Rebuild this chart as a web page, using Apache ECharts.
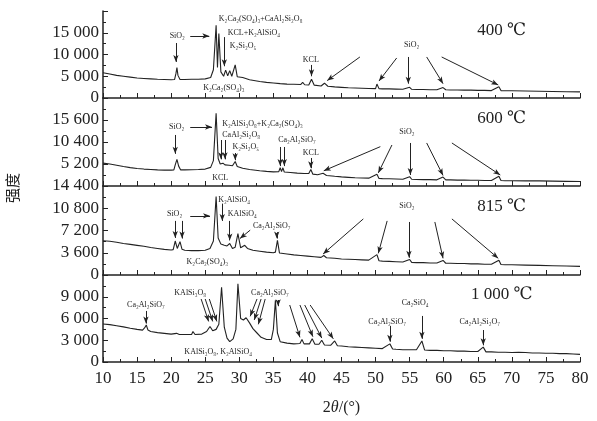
<!DOCTYPE html>
<html><head><meta charset="utf-8">
<script src="https://cdn.jsdelivr.net/npm/echarts@6/dist/echarts.min.js"></script>
<style>html,body{margin:0;padding:0;background:#fff}#c{width:597px;height:421px}</style>
</head><body><div id="c"></div>
<script>
// ---------- data ----------
const panelNames = ['400 ℃', '600 ℃', '815 ℃', '1 000 ℃'];
const yMax  = [20000, 20800, 14400, 12000];
const yStep = [5000, 5200, 3600, 3000];
const xMin = 10, xMax = 80, xStep = 5;

const xrd400 = [[10,5800],[11,5500],[12,5200],[13,5000],[14,4800],[15,4600],[16,4500],[17,4400],[18,4300],[19,4250],[20,4200],[20.5,4250],[20.7,5600],[20.85,7000],[21.0,5200],[21.3,4250],[22,4250],[23,4300],[24,4300],[25,4400],[25.8,4700],[26.2,6500],[26.6,16700],[26.8,7000],[27.0,14800],[27.3,6000],[27.7,5000],[28.0,6400],[28.3,5100],[28.6,6300],[28.9,5000],[29.4,7600],[29.7,4900],[30.5,4700],[31.5,4200],[33,3800],[34,3600],[35,3450],[36,3300],[37,3200],[38,3150],[39.0,3100],[39.3,3600],[39.6,3050],[40.2,3000],[40.6,4300],[41.0,2950],[42,2750],[42.5,3400],[43,2700],[44,2550],[45,2450],[46,2350],[47,2300],[48,2250],[49,2200],[50,2150],[50.2,3200],[50.5,2150],[51,2100],[52,2100],[53,2050],[54,2000],[55.0,2450],[55.3,2000],[56,1950],[57,1950],[58,1900],[59,1900],[59.9,2400],[60.3,1900],[61,1850],[62,1850],[63,1800],[64,1800],[65,1750],[66,1750],[67,1700],[68.1,2600],[68.4,1700],[69,1650],[70,1650],[72,1600],[74,1550],[76,1500],[78,1450],[80,1400]];

const xrd600 = [[10,5400],[11,5200],[12,4900],[13,4600],[14,4350],[15,4150],[16,4000],[17,3900],[18,3800],[19,3750],[20,3750],[20.4,3800],[20.6,5000],[20.85,6300],[21.1,4700],[21.4,3800],[22,3800],[23,3850],[24,3900],[25,4000],[25.8,4400],[26.2,6000],[26.6,17200],[26.9,6500],[27.2,5200],[27.6,5400],[27.9,5000],[28.1,5300],[28.5,4900],[29.0,4800],[29.4,5800],[29.7,4600],[30.5,4200],[31.5,3900],[33,3600],[34,3450],[35,3350],[35.8,3400],[36.0,4300],[36.2,3400],[36.4,4300],[36.6,3300],[37.5,3200],[38.5,3050],[39.5,2950],[40.2,2950],[40.5,3900],[40.8,2800],[41.5,2650],[42.3,3000],[42.8,2500],[44,2300],[45,2150],[46,2050],[47,1950],[48,1900],[49,1850],[50.2,2750],[50.5,1800],[51,1750],[52,1700],[53,1650],[54,1600],[55.0,2200],[55.3,1600],[56,1550],[57,1500],[58,1500],[59,1450],[59.9,2100],[60.3,1450],[61,1450],[62,1400],[63,1400],[64,1350],[65,1350],[66,1300],[67,1300],[68.1,2300],[68.4,1300],[69,1250],[70,1250],[72,1200],[74,1200],[76,1150],[78,1100],[80,1050]];

const xrd815 = [[10,5550],[11,5450],[12,5300],[13,5100],[14,4950],[15,4800],[16,4650],[17,4450],[18,4300],[19,4150],[20,4050],[20.3,4100],[20.6,5500],[20.9,4300],[21.3,5400],[21.6,4150],[22,4000],[23,3950],[24,3950],[25,4000],[25.7,4300],[26.2,5500],[26.6,12700],[26.9,6000],[27.3,5000],[27.8,4800],[28.2,4700],[28.6,5100],[29.0,4300],[29.4,4500],[29.8,6700],[30.2,4400],[30.8,4800],[31.2,4300],[32,4000],[33,3850],[34,3700],[35,3600],[35.3,3700],[35.6,5600],[35.9,3550],[37,3400],[38,3250],[39,3150],[40,3050],[41,2950],[42,2850],[42.4,3150],[42.8,2800],[44,2700],[45,2600],[46,2550],[47,2500],[48,2450],[49,2400],[50.2,3300],[50.5,2300],[51,2250],[52,2200],[53,2150],[54,2100],[55.0,2500],[55.3,2050],[56,2000],[57,2000],[58,1950],[59,1950],[59.9,2350],[60.3,1900],[61,1900],[62,1850],[63,1850],[64,1800],[65,1800],[66,1750],[67,1750],[68.1,2400],[68.4,1700],[69,1650],[70,1650],[72,1600],[74,1550],[76,1500],[78,1450],[80,1400]];

const xrd1000 = [[10,5250],[11,5150],[12,5000],[13,4850],[14,4650],[15,4500],[15.8,4400],[16.1,4700],[16.35,5100],[16.6,4400],[17,4200],[18,4050],[19,3950],[20,3850],[20.8,3950],[21.2,3800],[22,3800],[23,3800],[23.2,4200],[23.5,3800],[24.5,3850],[25.2,4200],[25.7,4900],[26.1,4300],[26.6,4500],[27.0,5200],[27.4,10300],[27.8,4800],[28.2,3300],[28.6,2800],[29.1,3200],[29.5,4500],[29.8,10800],[30.2,6000],[30.6,5800],[31.0,6100],[31.5,5400],[32.0,4600],[32.6,4000],[33.2,3400],[34.0,3100],[34.7,3100],[35.0,4500],[35.3,8500],[35.6,4000],[36.0,2800],[37,2600],[38,2500],[38.9,2550],[39.2,3100],[39.5,2500],[40.3,2500],[40.7,3200],[41.1,2450],[41.7,2450],[42.1,3000],[42.5,2350],[43.4,2300],[44.0,2900],[44.4,2250],[45,2200],[46,2100],[47,2050],[48,2000],[49,1950],[50,1900],[51,1850],[52.1,2500],[52.5,1800],[53,1750],[54,1700],[55,1700],[56,1700],[56.8,2900],[57.2,1650],[58,1600],[59,1600],[60,1550],[61,1550],[62,1500],[63,1500],[64,1450],[65,1450],[65.8,2050],[66.2,1400],[67,1400],[68,1350],[69,1350],[70,1300],[71,1350],[72,1300],[73,1250],[74,1250],[75,1200],[76,1200],[77,1150],[78,1150],[79,1100],[80,1050]];

const series = [xrd400, xrd600, xrd815, xrd1000];
const hiddenY = [[20000], [0, 20800], [], [12000]];

// ---------- annotations (text, phase labels) ----------
const notes = [
  { // 400
    labels: [
      ['SiO₂', 20.9, 14300, 'center'],
      ['K₂Ca₂(SO₄)₃+CaAl₂Si₂O₈', 27.0, 18200, 'left'],
      ['KCL+K₂AlSiO₄', 28.3, 14900, 'left'],
      ['K₂Si₂O₅', 28.6, 11900, 'left'],
      ['K₂Ca₂(SO₄)₃', 24.7, 2300, 'left'],
      ['KCL', 40.5, 8700, 'center'],
      ['SiO₂', 55.3, 12200, 'center']
    ],
    arrows: [
      [22.8,14250,25.6,14250],[20.7,12640,20.7,8300],[27.8,14000,27.8,7300],
      [40.6,7600,40.6,5000],
      [47.7,9430,42.9,4000],[53.1,9200,50.5,3900],[54.8,9430,54.8,3300],[57.5,9430,59.9,3300],[59.7,9430,68.0,3000]
    ]
  },
  { // 600
    labels: [
      ['SiO₂', 20.8, 13950, 'center'],
      ['K₂AlSi₃O₈+K₂Ca₂(SO₄)₃', 27.5, 14650, 'left'],
      ['CaAl₂Si₂O₈', 27.5, 12060, 'left'],
      ['K₂Si₂O₅', 29.0, 9200, 'left'],
      ['Ca₂Al₂SiO₇', 35.7, 10870, 'left'],
      ['KCL', 40.5, 7800, 'center'],
      ['KCL', 27.2, 1890, 'center'],
      ['SiO₂', 54.6, 12770, 'center']
    ],
    arrows: [
      [22.8,13950,26.0,13950],[20.6,12060,20.6,7600],
      [27.3,10870,27.3,6300],[27.9,10870,27.9,6300],[29.4,7800,29.4,6100],
      [36.0,9220,36.0,4700],[36.6,9220,36.6,4700],[40.5,6620,40.5,4200],
      [50.7,9300,42.4,3600],[52.4,9690,50.4,3100],[55.1,10170,55.1,2600],[57.5,10170,59.9,2500],[61.2,10170,68.3,2600]
    ]
  },
  { // 815
    labels: [
      ['SiO₂', 20.5, 9900, 'center'],
      ['K₂AlSiO₄', 26.9, 12210, 'left'],
      ['KAlSiO₄', 28.3, 9900, 'left'],
      ['Ca₂Al₂SiO₇', 32.0, 7920, 'left'],
      ['K₂Ca₂(SO₄)₃', 25.3, 2150, 'center'],
      ['SiO₂', 54.6, 11220, 'center']
    ],
    arrows: [
      [22.8,9570,25.7,9570],[20.6,8750,20.6,6000],[21.6,8750,21.6,5900],
      [27.5,11550,27.5,8750],[28.6,8750,28.6,5600],[31.6,7260,30.1,5900],[35.5,6930,35.5,5900],
      [48.2,9075,42.3,3400],[51.7,8750,50.4,3500],[54.9,8580,54.9,2800],[58.7,8580,59.9,2700],[61.2,9075,68.0,2700]
    ]
  },
  { // 1000
    labels: [
      ['Ca₂Al₂SiO₇', 16.3, 7870, 'center'],
      ['KAlSi₃O₈', 22.8, 9520, 'center'],
      ['Ca₂Al₂SiO₇', 34.5, 9520, 'center'],
      ['KAlSi₃O₈, K₂AlSiO₄', 26.9, 1380, 'center'],
      ['Ca₂Al₂SiO₇', 51.7, 5520, 'center'],
      ['Ca₂SiO₄', 55.8, 8140, 'center'],
      ['Ca₂Al₂Si₂O₇', 65.3, 5520, 'center']
    ],
    arrows: [
      [16.3,7040,16.3,5300],
      [24.4,8690,25.5,5600],[25.0,8690,26.1,5600],[25.6,8690,26.7,5600],
      [32.6,8690,31.6,6300],[33.2,8690,32.2,5800],[33.8,8690,32.8,5200],[35.7,8550,35.7,7700],
      [37.4,7860,38.9,3400],[38.9,7860,40.8,3500],[39.6,7860,42.1,3300],[40.4,7860,43.8,3200],
      [52.1,4970,52.1,2800],[56.8,6350,56.8,3200],[65.8,4410,65.8,2300]
    ]
  }
];

// ---------- chart ----------
const TXT = '#222';
const serif = "'Liberation Serif','DejaVu Serif','Times New Roman',serif";
const gridTop = [11, 98, 186, 275];
const gridH = [87, 88, 89, 87];
const fmt = v => String(v).replace(/\B(?=(\d{3})+(?!\d))/g, ' ');

const grids = [], xAxes = [], yAxes = [], ser = [];
for (let i = 0; i < 4; i++) {
  grids.push({ left: 103, right: 17, top: gridTop[i], height: gridH[i], containLabel: false });
  xAxes.push({
    type: 'value', gridIndex: i, min: xMin, max: xMax, interval: xStep,
    axisLine: { show: true, onZero: false, lineStyle: { color: TXT, width: 1.5 } },
    axisTick: { show: true, inside: true, length: 5, lineStyle: { color: TXT } },
    minorTick: { show: true, splitNumber: 2, length: 3, lineStyle: { color: TXT } },
    splitLine: { show: false },
    axisLabel: { show: i === 3, color: TXT, fontFamily: serif, fontSize: 17, margin: 8 },
    name: i === 3 ? '2{i|θ}/(°)' : '',
    nameLocation: 'middle', nameGap: 38,
    nameTextStyle: { color: TXT, fontFamily: serif, fontSize: 16,
      rich: { i: { fontStyle: 'italic', fontFamily: serif, fontSize: 16, color: TXT } } }
  });
  yAxes.push({
    type: 'value', gridIndex: i, min: 0, max: yMax[i], interval: yStep[i],
    axisLine: { show: true, lineStyle: { color: TXT, width: 1.5 } },
    axisTick: { show: true, inside: true, length: 5, lineStyle: { color: TXT } },
    minorTick: { show: true, splitNumber: 2, length: 3, lineStyle: { color: TXT } },
    splitLine: { show: false },
    axisLabel: { color: TXT, fontFamily: serif, fontSize: 17, margin: 4,
      formatter: v => hiddenY[i].includes(v) ? '' : fmt(v) }
  });
  const n = notes[i];
  const mpData = n.labels.map(l => ({
    coord: [l[1], l[2]], symbolSize: 0,
    label: { show: true, position: [0, 0], formatter: l[0], align: l[3], verticalAlign: 'middle',
      fontFamily: serif, fontSize: 8, color: TXT }
  }));
  mpData.push({
    coord: [68.5, yMax[i] * 0.77], symbolSize: 0,
    label: { show: true, position: [0, 0], formatter: panelNames[i], align: 'center', verticalAlign: 'middle',
      fontFamily: serif, fontSize: 17, color: TXT }
  });
  ser.push({
    type: 'line', xAxisIndex: i, yAxisIndex: i, data: series[i],
    showSymbol: false, symbol: 'none', animation: false, silent: true,
    lineStyle: { color: '#222', width: 1.1 },
    markPoint: { silent: true, animation: false, symbol: 'circle', symbolSize: 0, data: mpData },
    markLine: {
      silent: true, animation: false, symbol: ['none', 'arrow'], symbolSize: [4, 7],
      lineStyle: { color: TXT, width: 1, type: 'solid' }, label: { show: false },
      data: n.arrows.map(a => [{ coord: [a[0], a[1]] }, { coord: [a[2], a[3]] }])
    }
  });
}

const chart = echarts.init(document.getElementById('c'), null, { renderer: 'canvas' });
chart.setOption({
  backgroundColor: '#fff',
  animation: false,
  grid: grids, xAxis: xAxes, yAxis: yAxes, series: ser,
  graphic: [{
    type: 'text', x: 12, y: 188, rotation: Math.PI / 2,
    style: { text: '强度', fill: TXT, font: "15px 'Noto Sans CJK SC'", align: 'center', verticalAlign: 'middle' }
  }]
});
</script></body></html>
